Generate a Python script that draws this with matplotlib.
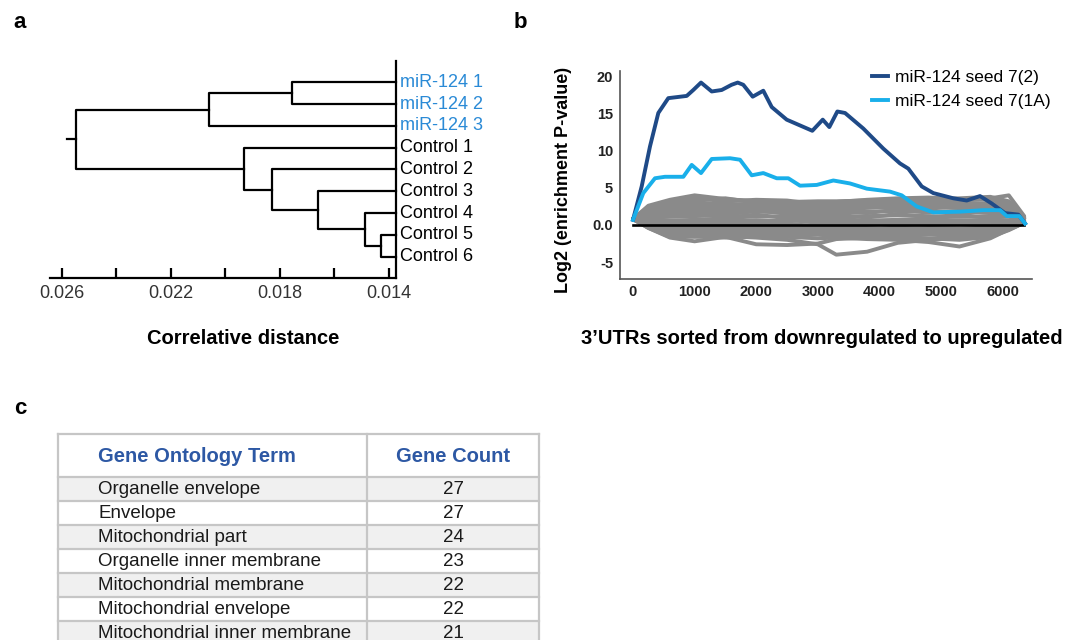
import numpy as np
import matplotlib
matplotlib.use('Agg')
import matplotlib.pyplot as plt
from matplotlib.patches import Rectangle
from matplotlib.ticker import FuncFormatter

plt.rcParams['font.family'] = ['Liberation Sans', 'DejaVu Sans']

W, H = 1083, 640

# ---------------- panel a : dendrogram ----------------
leaf_names = ['miR-124 1', 'miR-124 2', 'miR-124 3', 'Control 1', 'Control 2',
              'Control 3', 'Control 4', 'Control 5', 'Control 6']
leaf_colors = ['#2a8ad6'] * 3 + ['black'] * 6
leaf_height = 0.01374
# (child, child, distance); new clusters get ids 9, 10, ...
merges = [(0, 1, 0.01756), (9, 2, 0.02061), (7, 8, 0.01429), (6, 11, 0.01488),
          (5, 12, 0.01659), (4, 13, 0.01828), (3, 14, 0.01931), (10, 15, 0.02548)]
root_stub = 0.02583
dist_ticks = [0.026, 0.024, 0.022, 0.020, 0.018, 0.016, 0.014]
dist_labels = ['0.026', '', '0.022', '', '0.018', '', '0.014']

# ---------------- panel b : enrichment curves ----------------
seed72_x = [0, 141, 276, 411, 573, 872, 979, 1104, 1278, 1440, 1600, 1700, 1790,
            1943, 2115, 2252, 2495, 2911, 3080, 3187, 3317, 3442, 3739, 4063,
            4334, 4469, 4687, 4875, 5200, 5417, 5633, 5823, 6039, 6255, 6364]
seed72_y = [0.7, 5.2, 10.6, 15.1, 17.1, 17.4, 18.2, 19.2, 18.0, 18.2, 18.9, 19.2, 18.9,
            17.3, 18.1, 15.9, 14.2, 12.7, 14.2, 13.2, 15.3, 15.1, 13.0, 10.3,
            8.3, 7.6, 5.2, 4.3, 3.6, 3.3, 3.9, 2.9, 1.6, 1.4, 0.2]
seed71a_x = [0, 167, 357, 519, 817, 953, 1104, 1278, 1575, 1737, 1927, 2115, 2333,
             2521, 2711, 2982, 3252, 3523, 3794, 4172, 4362, 4606, 4875, 5308,
             5687, 5958, 6067, 6271, 6364]
seed71a_y = [0.7, 4.3, 6.3, 6.5, 6.5, 8.1, 7.0, 8.9, 9.0, 8.8, 6.7, 7.0, 6.3,
             6.3, 5.3, 5.4, 6.0, 5.6, 4.9, 4.5, 4.0, 2.5, 1.7, 1.8,
             2.0, 2.0, 1.2, 1.2, 0.2]

ctrl_x = [0, 250, 600, 1000, 1500, 2000, 2500, 3000, 3300, 3800, 4300, 4800, 5300, 5800, 6100, 6350]
ctrl_1 = [0.8, 2.6, 3.4, 4.0, 3.5, 3.2, 3.1, 3.2, 3.2, 3.3, 3.5, 3.4, 3.3, 3.6, 4.0, 1.2]
ctrl_2 = [0.8, 2.2, 3.0, 3.3, 3.6, 3.0, 2.9, 3.0, 3.1, 3.4, 3.6, 3.7, 3.5, 3.4, 2.8, 1.0]
ctrl_3 = [0.8, 1.8, 2.6, 2.8, 2.9, 2.6, 2.7, 2.5, 2.6, 2.9, 3.0, 3.1, 2.8, 2.6, 2.2, 1.0]
ctrl_4 = [0.8, 1.5, 2.1, 2.3, 2.2, 2.4, 2.0, 2.2, 2.1, 2.3, 2.5, 2.4, 2.3, 2.0, 1.8, 0.9]
ctrl_5 = [0.8, 1.2, 1.6, 1.8, 1.6, 1.8, 1.7, 1.5, 1.7, 1.8, 1.9, 1.7, 1.9, 1.6, 1.5, 0.9]
ctrl_6 = [0.8, 1.0, 1.1, 1.2, 1.3, 1.1, 1.2, 1.3, 1.1, 1.2, 1.3, 1.2, 1.1, 1.2, 1.1, 0.8]
ctrl_7 = [0.8, 0.7, 0.6, 0.7, 0.8, 0.6, 0.5, 0.7, 0.8, 0.6, 0.7, 0.8, 0.6, 0.7, 0.6, 0.7]
ctrl_8 = [0.8, 0.4, 0.1, 0.2, 0.0, 0.2, 0.1, -0.1, 0.1, 0.2, 0.0, 0.1, 0.2, 0.0, 0.2, 0.6]
ctrl_9 = [0.8, 0.1, -0.4, -0.3, -0.5, -0.3, -0.4, -0.5, -0.3, -0.4, -0.6, -0.4, -0.5, -0.3, 0.0, 0.5]
ctrl_10 = [0.8, -0.1, -0.8, -0.9, -0.8, -0.9, -1.0, -0.8, -0.9, -1.0, -0.8, -0.9, -1.1, -0.7, -0.2, 0.4]
ctrl_11 = [0.8, -0.3, -1.3, -1.4, -1.3, -1.2, -1.4, -1.3, -1.5, -1.3, -1.4, -1.3, -1.5, -1.2, -0.5, 0.3]
ctrl_12 = [0.8, -0.4, -1.7, -2.2, -1.6, -2.6, -2.7, -2.5, -1.9, -1.7, -1.6, -1.8, -2.0, -1.6, -0.7, 0.3]
ctrl_13 = [0.8, -0.3, -1.5, -1.6, -1.5, -1.7, -2.0, -2.6, -4.0, -3.6, -2.4, -2.0, -1.7, -1.4, -0.6, 0.3]
ctrl_14 = [0.8, -0.4, -1.6, -1.5, -1.7, -1.5, -1.6, -1.8, -1.7, -1.9, -2.0, -2.3, -2.9, -1.8, -0.6, 0.3]
ctrl_15 = [0.8, 2.4, 3.2, 3.6, 3.2, 3.4, 3.3, 2.8, 2.9, 3.1, 3.2, 3.5, 3.6, 3.8, 3.2, 1.1]
ctrl_16 = [0.8, 2.0, 2.8, 3.1, 2.7, 2.9, 2.4, 2.7, 2.8, 2.6, 2.8, 2.9, 3.0, 2.9, 2.5, 1.0]
ctrl_17 = [0.8, 1.6, 2.3, 2.5, 2.6, 2.2, 2.3, 2.0, 2.4, 2.6, 2.2, 2.6, 2.5, 2.3, 2.0, 0.9]
ctrl_18 = [0.8, 1.3, 1.9, 2.0, 1.9, 2.0, 1.5, 1.8, 1.9, 1.6, 2.1, 2.0, 1.6, 1.9, 1.7, 0.9]
ctrl_19 = [0.8, 0.9, 1.4, 1.5, 1.0, 1.4, 0.9, 1.0, 1.4, 1.0, 1.5, 1.0, 1.4, 0.9, 1.2, 0.8]
ctrl_20 = [0.8, 0.6, 0.3, 0.5, 0.4, 0.3, 0.7, 0.3, 0.4, 0.5, 0.3, 0.5, 0.4, 0.5, 0.4, 0.6]
ctrl_21 = [0.8, 0.0, -0.6, -0.6, -0.2, -0.6, -0.7, -0.3, -0.6, -0.7, -0.3, -0.7, -0.8, -0.5, -0.1, 0.5]
ctrl_22 = [0.8, -0.2, -1.1, -1.1, -1.0, -1.1, -1.2, -1.1, -1.2, -1.2, -1.1, -1.1, -1.3, -1.0, -0.4, 0.4]
ctrl_curves = [ctrl_1, ctrl_2, ctrl_3, ctrl_4, ctrl_5, ctrl_6, ctrl_7, ctrl_8,
               ctrl_9, ctrl_10, ctrl_11, ctrl_12, ctrl_13, ctrl_14, ctrl_15,
               ctrl_16, ctrl_17, ctrl_18, ctrl_19, ctrl_20, ctrl_21, ctrl_22]
b_yticks = [-5, 0, 5, 10, 15, 20]
b_xticks = [0, 1000, 2000, 3000, 4000, 5000, 6000]

# ---------------- panel c : GO table ----------------
go_header = ['Gene Ontology Term', 'Gene Count']
go_terms = ['Organelle envelope', 'Envelope', 'Mitochondrial part',
            'Organelle inner membrane', 'Mitochondrial membrane',
            'Mitochondrial envelope', 'Mitochondrial inner membrane']
gene_counts = [27, 27, 24, 23, 22, 22, 21]


def rect(left, top, right, bottom):
    return [left / W, 1 - bottom / H, (right - left) / W, (bottom - top) / H]


fig = plt.figure(figsize=(W / 100, H / 100), dpi=100)

# overlay in pixel coordinates for the table and labels
ov = fig.add_axes([0, 0, 1, 1])
ov.set_xlim(0, W)
ov.set_ylim(H, 0)
ov.axis('off')

# ---- panel a ----
ax_a = fig.add_axes(rect(50, 60.7, 396, 278.3))
ax_a.set_xlim(0.02644, 0.01374)
ax_a.set_ylim(8.99, -0.99)
n = len(leaf_names)
pos = {i: (leaf_height, i) for i in range(n)}
for k, (a, b, h) in enumerate(merges):
    xa, ya = pos[a]
    xb, yb = pos[b]
    ax_a.plot([xa, h, h, xb], [ya, ya, yb, yb], color='black', lw=1.6, clip_on=False)
    pos[n + k] = (h, (ya + yb) / 2)
rx, ry = pos[n + len(merges) - 1]
ax_a.plot([rx, root_stub], [ry, ry], color='black', lw=1.6, clip_on=False)
for i, (name, c) in enumerate(zip(leaf_names, leaf_colors)):
    ax_a.annotate(name, xy=(leaf_height, i), xytext=(3, 0), textcoords='offset points',
                  ha='left', va='center', fontsize=13, color=c, annotation_clip=False)
for s in ['left', 'top']:
    ax_a.spines[s].set_visible(False)
for s in ['right', 'bottom']:
    ax_a.spines[s].set_linewidth(1.6)
ax_a.set_yticks([])
ax_a.set_xticks(dist_ticks)
ax_a.set_xticklabels(dist_labels)
ax_a.tick_params(axis='x', direction='in', length=7.5, width=1.6, pad=5,
                 labelsize=13, labelcolor='#333333')
ax_a.patch.set_alpha(0)

fig.text(242.8 / W, 1 - 338.3 / H, 'Correlative distance', ha='center', va='center',
         fontsize=14.5, fontweight='bold')

# ---- panel b ----
ax_b = fig.add_axes(rect(620, 70.7, 1031.7, 279.3))
ax_b.set_xlim(-211, 6472)
ax_b.set_ylim(-7.32, 20.8)
for cy in ctrl_curves:
    ax_b.plot(ctrl_x, cy, color='#8a8a8a', lw=2.8, solid_capstyle='round',
              solid_joinstyle='round')
ax_b.plot([ctrl_x[0], ctrl_x[-1]], [0, 0], color='black', lw=1.9)
l1, = ax_b.plot(seed72_x, seed72_y, color='#1f4a87', lw=2.8, solid_joinstyle='round',
                label='miR-124 seed 7(2)')
l2, = ax_b.plot(seed71a_x, seed71a_y, color='#19afea', lw=2.8, solid_joinstyle='round',
                label='miR-124 seed 7(1A)')
for s in ['top', 'right']:
    ax_b.spines[s].set_visible(False)
for s in ['left', 'bottom']:
    ax_b.spines[s].set_linewidth(1.2)
    ax_b.spines[s].set_color('#555555')
ax_b.set_yticks(b_yticks)
ax_b.set_xticks(b_xticks)
ax_b.yaxis.set_major_formatter(FuncFormatter(lambda v, p: '0.0' if v == 0 else '%d' % v))
ax_b.tick_params(length=0, labelsize=10.5, labelcolor='#222222')
ax_b.tick_params(axis='y', pad=5)
ax_b.tick_params(axis='x', pad=4)
for t in ax_b.get_xticklabels() + ax_b.get_yticklabels():
    t.set_fontweight('bold')
ax_b.patch.set_alpha(0)
ax_b.legend(handles=[l1, l2], loc='upper left', bbox_to_anchor=(872 / W, 1 - 70 / H),
            bbox_transform=fig.transFigure, frameon=False, fontsize=12.5,
            handlelength=0.9, handletextpad=0.4, labelspacing=0.5,
            borderpad=0, borderaxespad=0)

fig.text(564 / W, 1 - 180 / H, 'Log2 (enrichment P-value)', rotation=90,
         ha='center', va='center', fontsize=13, fontweight='bold')
fig.text(822 / W, 1 - 338.3 / H, '3\u2019UTRs sorted from downregulated to upregulated',
         ha='center', va='center', fontsize=14.5, fontweight='bold')

# ---- panel c : table ----
t_left, t_mid, t_right = 58.3, 367.3, 539.3
t_top, head_bottom, row_h = 434, 476.7, 24
border = '#c6c6c6'
for i, (term, cnt) in enumerate(zip(go_terms, gene_counts)):
    y0 = head_bottom + i * row_h
    fc = '#f0f0f0' if i % 2 == 0 else 'white'
    ov.add_patch(Rectangle((t_left, y0), t_right - t_left, row_h, facecolor=fc,
                           edgecolor='none', zorder=1))
    ov.text(98.5, y0 + row_h / 2 + 0.5, term, ha='left', va='center', fontsize=13.5,
            color='#1a1a1a', zorder=3)
    ov.text((t_mid + t_right) / 2, y0 + row_h / 2 + 0.5, str(cnt), ha='center',
            va='center', fontsize=13.5, color='#1a1a1a', zorder=3)
    ov.plot([t_left, t_right], [y0 + row_h, y0 + row_h], color=border, lw=1.6, zorder=2)
t_bottom = head_bottom + len(go_terms) * row_h
ov.plot([t_left, t_right], [t_top, t_top], color=border, lw=1.6, zorder=2)
ov.plot([t_left, t_right], [head_bottom, head_bottom], color=border, lw=1.6, zorder=2)
for xv in [t_left, t_mid, t_right]:
    ov.plot([xv, xv], [t_top, t_bottom], color=border, lw=1.6, zorder=2)
ov.text(98.5, 456, go_header[0], ha='left', va='center', fontsize=14.5,
        fontweight='bold', color='#2d58a4', zorder=3)
ov.text((t_mid + t_right) / 2, 456, go_header[1], ha='center', va='center',
        fontsize=14.5, fontweight='bold', color='#2d58a4', zorder=3)

# panel letters
for letter, px, py in [('a', 20, 22), ('b', 520, 22), ('c', 20, 408)]:
    ov.text(px, py, letter, ha='center', va='center', fontsize=16, fontweight='bold')

fig.savefig('out.png', dpi=100)
